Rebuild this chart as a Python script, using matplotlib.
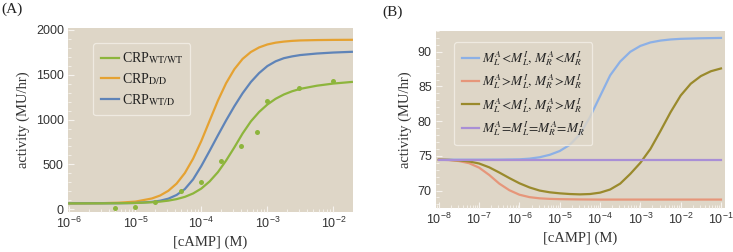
import matplotlib

matplotlib.use("Agg")
import matplotlib.pyplot as plt
import numpy as np
from matplotlib.ticker import AutoMinorLocator, LogLocator, NullFormatter

plt.rcParams["font.family"] = ["Liberation Sans", "DejaVu Sans"]
plt.rcParams["mathtext.fontset"] = "stix"

BG = "#ded6c7"
TICK = "#f6f3ee"
SERIF = "Liberation Serif"

# ---- panel A: log10 [cAMP] grid and curve values (MU/hr)
A_LOGX = [-6, -5.5, -5.25, -5, -4.75, -4.625, -4.5, -4.375, -4.25, -4.125, -4, -3.875,
          -3.75, -3.625, -3.5, -3.375, -3.25, -3.125, -3, -2.875, -2.75, -2.625, -2.5,
          -2.25, -2, -1.72]
A_DD = [65, 68, 73, 85, 120, 153, 206, 286, 404, 564, 762, 987,
        1210, 1406, 1562, 1677, 1754, 1805, 1838, 1858, 1870, 1878, 1883,
        1887, 1889, 1890]
A_WTD = [66, 66.5, 67, 70, 82, 95, 118, 159, 225, 333, 483, 651,
         823, 991, 1149, 1294, 1419, 1519, 1597, 1650, 1685, 1705, 1720,
         1737, 1748, 1756]
A_WTWT = [65, 66, 67, 70, 78, 85, 96, 113, 138, 176, 231, 310,
          413, 543, 690, 845, 980, 1085, 1168, 1232, 1280, 1316, 1343,
          1378, 1402, 1420]

# measured points, CRP WT/WT
DOTS_X = [5e-6, 1e-5, 2e-5, 5e-5, 1e-4, 2e-4, 4e-4, 7e-4, 1e-3, 3e-3, 1e-2]
DOTS_Y = [15, 26, 83, 200, 305, 540, 707, 864, 1210, 1349, 1430]

# ---- panel B
B_BLUE_LOGX = [-8, -7, -6.5, -6, -5.75, -5.5, -5.25, -5, -4.75, -4.5, -4.25, -4,
               -3.75, -3.5, -3.25, -3, -2.75, -2.5, -2.25, -2, -1.5, -1]
B_BLUE = [74.45, 74.45, 74.46, 74.5, 74.6, 74.8, 75.15, 75.7, 76.6, 78.1, 80.6, 83.6,
          86.6, 88.6, 90.0, 90.85, 91.35, 91.62, 91.78, 91.87, 91.95, 92.0]
B_SALMON_LOGX = [-8, -7.75, -7.5, -7.25, -7, -6.75, -6.5, -6.25, -6, -5.75, -5.5,
                 -5.25, -5, -4.5, -4, -1]
B_SALMON = [74.45, 74.4, 74.25, 73.95, 73.3, 72.25, 71.0, 70.05, 69.4, 69.05, 68.88,
            68.8, 68.76, 68.72, 68.7, 68.7]
B_OLIVE_LOGX = [-8, -7.75, -7.5, -7.25, -7, -6.75, -6.5, -6.25, -6, -5.75, -5.5, -5.25,
                -5, -4.75, -4.5, -4.25, -4, -3.75, -3.5, -3.25, -3, -2.75, -2.5, -2.25,
                -2, -1.75, -1.5, -1.25, -1]
B_OLIVE = [74.45, 74.42, 74.35, 74.2, 73.9, 73.35, 72.6, 71.8, 71.05, 70.45, 70.0, 69.75,
           69.6, 69.5, 69.45, 69.5, 69.7, 70.15, 71.0, 72.4, 74.0, 76.0, 78.6, 81.3,
           83.7, 85.4, 86.5, 87.2, 87.6]
B_PURPLE_LOGX = [-8, -1]
B_PURPLE = [74.45, 74.45]

A_LABELS = [r"CRP$_{\rm WT/WT}$", r"CRP$_{\rm D/D}$", r"CRP$_{\rm WT/D}$"]
B_LABELS = [
    r"$M_L^A\!<\!M_L^I,\,M_R^A\!<\!M_R^I$",
    r"$M_L^A\!>\!M_L^I,\,M_R^A\!>\!M_R^I$",
    r"$M_L^A\!<\!M_L^I,\,M_R^A\!>\!M_R^I$",
    r"$M_L^A\!=\!M_L^I\!=\!M_R^A\!=\!M_R^I$",
]


def conc(logx):
    return 10.0 ** np.asarray(logx, dtype=float)


def style_axes(ax):
    ax.set_facecolor(BG)
    for s in ax.spines.values():
        s.set_visible(False)
    ax.set_xscale("log")
    ax.xaxis.set_major_locator(LogLocator(base=10, numticks=20))
    ax.xaxis.set_minor_locator(LogLocator(base=10, subs=np.arange(2, 10), numticks=20))
    ax.xaxis.set_minor_formatter(NullFormatter())
    ax.yaxis.set_minor_locator(AutoMinorLocator(5))
    ax.tick_params(which="both", direction="in", color=TICK, top=False, right=False)
    ax.tick_params(which="major", length=4, width=0.8, labelsize=9, labelcolor="#333333", pad=3)
    ax.tick_params(which="minor", length=2, width=0.6)
    ax.set_xlabel("[cAMP] (M)", family=SERIF, fontsize=10.5, color="#333333", labelpad=3)
    ax.set_ylabel("activity (MU/hr)", family=SERIF, fontsize=10.5, color="#333333", labelpad=4)


def legend(ax, anchor, size):
    leg = ax.legend(loc="upper left", bbox_to_anchor=anchor, borderaxespad=0, frameon=True,
                    fancybox=True, handlelength=1.3, handletextpad=0.2, labelspacing=0.35,
                    borderpad=0.55, prop={"family": SERIF, "size": size})
    frame = leg.get_frame()
    frame.set_facecolor(BG)
    frame.set_edgecolor("#f4f0e8")
    frame.set_linewidth(0.9)
    frame.set_alpha(0.8)
    for t in leg.get_texts():
        t.set_color("#222222")


fig = plt.figure(figsize=(7.33, 2.52), dpi=100)
axA = fig.add_axes([0.0928, 0.159, 0.389, 0.730])
axB = fig.add_axes([0.5948, 0.175, 0.3943, 0.702])

# panel A
style_axes(axA)
lw = 1.6
axA.plot(conc(A_LOGX), A_WTWT, color="#8db53c", lw=lw, label=A_LABELS[0], zorder=3)
axA.plot(conc(A_LOGX), A_DD, color="#e5a232", lw=lw, label=A_LABELS[1], zorder=2)
axA.plot(conc(A_LOGX), A_WTD, color="#5f84b8", lw=lw, label=A_LABELS[2], zorder=2)
axA.plot(DOTS_X, DOTS_Y, "o", color="#8db53c", ms=3.6, mec="none", zorder=4)
axA.set_xlim(10 ** -6.02, 10 ** -1.70)
axA.set_ylim(-30, 2022)
axA.set_yticks([0, 500, 1000, 1500, 2000])
legend(axA, (0.088, 0.918), 10)

# panel B
style_axes(axB)
axB.plot(conc(B_BLUE_LOGX), B_BLUE, color="#8cb0e6", lw=lw, label=B_LABELS[0])
axB.plot(conc(B_SALMON_LOGX), B_SALMON, color="#e6967a", lw=lw, label=B_LABELS[1])
axB.plot(conc(B_OLIVE_LOGX), B_OLIVE, color="#9a8a2c", lw=lw, label=B_LABELS[2])
axB.plot(conc(B_PURPLE_LOGX), B_PURPLE, color="#a98fd6", lw=lw, label=B_LABELS[3])
axB.set_xlim(10 ** -8.07, 10 ** -0.9)
axB.set_ylim(67.5, 93.0)
axB.set_yticks([70, 75, 80, 85, 90])
legend(axB, (0.064, 0.938), 9.6)

fig.text(0.002, 0.965, "(A)", family=SERIF, fontsize=11, va="center", ha="left", color="#222222")
fig.text(0.522, 0.953, "(B)", family=SERIF, fontsize=11, va="center", ha="left", color="#222222")

fig.savefig("out.png", dpi=100, facecolor="white")
